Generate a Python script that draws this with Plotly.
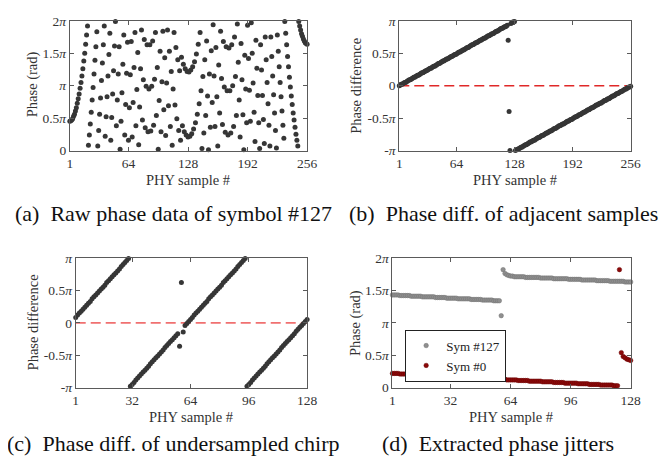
import plotly.graph_objects as go

# ---------------- data (phase values in units of pi) ----------------
# (a) raw phase of symbol #127, samples 1..256
raw_phase = [
    0.45, 0.46, 0.47, 0.49, 0.53, 0.56, 0.61, 0.66, 0.73, 0.80,
    0.87, 0.96, 1.05, 1.15, 1.26, 1.38, 1.50, 1.64, 1.78, 1.92,
    0.08, 0.24, 0.41, 0.59, 0.78, 0.97, 1.18, 1.39, 1.60, 1.83,
    0.07, 0.31, 0.56, 0.81, 1.08, 1.35, 1.63, 1.92, 0.22, 0.52,
    0.83, 1.15, 1.48, 1.81, 0.16, 0.51, 0.87, 1.23, 1.61, 1.99,
    0.38, 0.78, 1.18, 1.60, 0.02, 0.45, 0.89, 1.33, 1.78, 0.24,
    0.71, 1.19, 1.67, 0.16, 0.66, 1.17, 1.68, 0.21, 0.74, 1.28,
    1.82, 0.38, 0.94, 1.51, 0.09, 0.67, 1.26, 1.86, 0.47, 1.09,
    1.71, 0.35, 0.99, 1.63, 0.29, 0.95, 1.63, 0.30, 0.99, 1.69,
    0.39, 1.10, 1.82, 0.54, 1.28, 0.02, 0.77, 1.53, 0.29, 1.06,
    1.84, 0.63, 1.43, 0.23, 1.04, 1.86, 0.69, 1.53, 0.37, 1.22,
    0.08, 0.95, 1.82, 0.70, 1.59, 0.49, 1.40, 0.31, 1.23, 0.16,
    1.44, 0.38, 1.33, 0.29, 1.26, 0.24, 1.22, 0.21, 1.21, 0.22,
    1.24, 0.26, 1.29, 0.33, 1.37, 0.43, 1.49, 0.56, 1.64, 0.72,
    1.82, 0.92, 0.03, 1.14, 0.27, 1.40, 0.54, 1.69, 0.84, 0.01,
    1.18, 0.36, 1.54, 0.74, 1.94, 1.15, 0.37, 1.59, 0.83, 0.07,
    1.32, 0.58, 1.84, 1.11, 0.40, 1.68, 0.98, 0.28, 1.60, 0.92,
    0.24, 1.58, 0.92, 0.27, 1.63, 1.00, 0.37, 1.75, 1.14, 0.54,
    1.95, 1.36, 0.78, 0.21, 1.65, 1.09, 0.55, 0.01, 1.47, 0.95,
    0.43, 1.93, 1.42, 0.93, 0.45, 1.97, 1.50, 1.04, 0.59, 0.14,
    1.70, 1.27, 0.85, 0.43, 0.03, 1.63, 1.24, 0.85, 0.48, 0.11,
    1.75, 1.40, 1.05, 0.72, 0.39, 0.07, 1.75, 1.45, 1.15, 0.86,
    0.58, 0.31, 0.04, 1.78, 1.53, 1.29, 1.05, 0.83, 0.61, 0.39,
    0.19, 1.99, 1.81, 1.63, 1.45, 1.29, 1.13, 0.98, 0.84, 0.71,
    0.58, 0.47, 0.36, 0.25, 0.16, 0.07, 1.99, 1.92, 1.86, 1.80,
    1.76, 1.72, 1.69, 1.66, 1.65, 1.64,
]

# (b) phase difference of adjacent samples, samples 1..256
adjacent_diff = [
    0.00, 0.01, 0.02, 0.02, 0.03, 0.04, 0.05, 0.05, 0.06, 0.07, 0.08, 0.09, 0.09, 0.10, 0.11, 0.12,
    0.13, 0.13, 0.14, 0.15, 0.16, 0.16, 0.17, 0.18, 0.19, 0.20, 0.20, 0.21, 0.22, 0.23, 0.23, 0.24,
    0.25, 0.26, 0.27, 0.27, 0.28, 0.29, 0.30, 0.30, 0.31, 0.32, 0.33, 0.34, 0.34, 0.35, 0.36, 0.37,
    0.38, 0.38, 0.39, 0.40, 0.41, 0.41, 0.42, 0.43, 0.44, 0.45, 0.45, 0.46, 0.47, 0.48, 0.48, 0.49,
    0.50, 0.51, 0.52, 0.52, 0.53, 0.54, 0.55, 0.55, 0.56, 0.57, 0.58, 0.59, 0.59, 0.60, 0.61, 0.62,
    0.63, 0.63, 0.64, 0.65, 0.66, 0.66, 0.67, 0.68, 0.69, 0.70, 0.70, 0.71, 0.72, 0.73, 0.73, 0.74,
    0.75, 0.76, 0.77, 0.77, 0.78, 0.79, 0.80, 0.80, 0.81, 0.82, 0.83, 0.84, 0.84, 0.85, 0.86, 0.87,
    0.88, 0.88, 0.89, 0.90, 0.91, 0.91, 0.92, 0.93, 0.70, -0.40, -1.00, 0.96, 0.97, 0.98, 0.98, 0.99,
    -1.00, -0.99, -0.98, -0.98, -0.97, -0.96, -0.95, -0.95, -0.94, -0.93, -0.92, -0.91, -0.91, -0.90, -0.89, -0.88,
    -0.87, -0.87, -0.86, -0.85, -0.84, -0.84, -0.83, -0.82, -0.81, -0.80, -0.80, -0.79, -0.78, -0.77, -0.77, -0.76,
    -0.75, -0.74, -0.73, -0.73, -0.72, -0.71, -0.70, -0.70, -0.69, -0.68, -0.67, -0.66, -0.66, -0.65, -0.64, -0.63,
    -0.62, -0.62, -0.61, -0.60, -0.59, -0.59, -0.58, -0.57, -0.56, -0.55, -0.55, -0.54, -0.53, -0.52, -0.52, -0.51,
    -0.50, -0.49, -0.48, -0.48, -0.47, -0.46, -0.45, -0.45, -0.44, -0.43, -0.42, -0.41, -0.41, -0.40, -0.39, -0.38,
    -0.37, -0.37, -0.36, -0.35, -0.34, -0.34, -0.33, -0.32, -0.31, -0.30, -0.30, -0.29, -0.28, -0.27, -0.27, -0.26,
    -0.25, -0.24, -0.23, -0.23, -0.22, -0.21, -0.20, -0.20, -0.19, -0.18, -0.17, -0.16, -0.16, -0.15, -0.14, -0.13,
    -0.12, -0.12, -0.11, -0.10, -0.09, -0.09, -0.08, -0.07, -0.06, -0.05, -0.05, -0.04, -0.03, -0.02, -0.02, -0.01,
]

# (c) phase difference of undersampled chirp, samples 1..128
undersampled_diff = [
    0.08, 0.12, 0.15, 0.18, 0.21, 0.24, 0.27, 0.30, 0.33, 0.37, 0.40, 0.43, 0.46, 0.49, 0.52, 0.55,
    0.58, 0.62, 0.65, 0.68, 0.71, 0.74, 0.77, 0.80, 0.83, 0.87, 0.90, 0.93, 0.96, 0.99, -0.98, -0.95,
    -0.92, -0.88, -0.85, -0.82, -0.79, -0.76, -0.73, -0.70, -0.67, -0.63, -0.60, -0.57, -0.54, -0.51,
    -0.48, -0.45, -0.42, -0.38, -0.35, -0.32, -0.29, -0.26, -0.23, -0.20, -0.17, -0.36, 0.62, -0.14,
    -0.04, -0.01, 0.02, 0.05, 0.08, 0.12, 0.15, 0.18, 0.21, 0.24, 0.27, 0.30, 0.33, 0.37, 0.40, 0.43,
    0.46, 0.49, 0.52, 0.55, 0.58, 0.62, 0.65, 0.68, 0.71, 0.74, 0.77, 0.80, 0.83, 0.87, 0.90, 0.93,
    0.96, 0.99, -0.98, -0.95, -0.92, -0.88, -0.85, -0.82, -0.79, -0.76, -0.73, -0.70, -0.67, -0.63,
    -0.60, -0.57, -0.54, -0.51, -0.48, -0.45, -0.42, -0.38, -0.35, -0.32, -0.29, -0.26, -0.23, -0.20,
    -0.17, -0.13, -0.10, -0.07, -0.04, -0.01, 0.02, 0.05,
]

# (d) extracted phase jitters, samples 1..128
sym127_phase = [
    1.43, 1.43, 1.43, 1.43, 1.42, 1.42, 1.42, 1.42, 1.42, 1.42,
    1.41, 1.41, 1.41, 1.41, 1.41, 1.41, 1.40, 1.40, 1.40, 1.40, 1.40, 1.40, 1.40,
    1.39, 1.39, 1.39, 1.39, 1.39, 1.39, 1.38, 1.38, 1.38, 1.38, 1.38, 1.38,
    1.37, 1.37, 1.37, 1.37, 1.37, 1.37, 1.37, 1.36, 1.36, 1.36, 1.36, 1.36, 1.36,
    1.35, 1.35, 1.35, 1.35, 1.35, 1.35, 1.34, 1.34, 1.34, 1.34,
    1.11,
    1.82, 1.76, 1.74, 1.73, 1.72, 1.72, 1.71, 1.71, 1.71, 1.71, 1.71, 1.71,
    1.70, 1.70, 1.70, 1.70, 1.70, 1.70, 1.70, 1.70,
    1.69, 1.69, 1.69, 1.69, 1.69, 1.69, 1.69,
    1.68, 1.68, 1.68, 1.68, 1.68, 1.68, 1.68, 1.68,
    1.67, 1.67, 1.67, 1.67, 1.67, 1.67, 1.67,
    1.66, 1.66, 1.66, 1.66, 1.66, 1.66, 1.66, 1.66,
    1.65, 1.65, 1.65, 1.65, 1.65, 1.65, 1.65,
    1.64, 1.64, 1.64, 1.64, 1.64, 1.64, 1.64, 1.64,
    1.63, 1.63, 1.63, 1.63,
]
sym0_phase = [
    0.22, 0.22, 0.22, 0.22, 0.21, 0.21, 0.21, 0.21, 0.21, 0.21,
    0.20, 0.20, 0.20, 0.20, 0.20, 0.20, 0.19, 0.19, 0.19, 0.19, 0.19, 0.19, 0.19,
    0.18, 0.18, 0.18, 0.18, 0.18, 0.18, 0.17, 0.17, 0.17, 0.17, 0.17, 0.17,
    0.16, 0.16, 0.16, 0.16, 0.16, 0.16, 0.16, 0.15, 0.15, 0.15, 0.15, 0.15, 0.15,
    0.14, 0.14, 0.14, 0.14, 0.14, 0.14, 0.13, 0.13, 0.13, 0.13, 0.13, 0.13, 0.13,
    0.12, 0.12, 0.12, 0.12, 0.12, 0.12, 0.11, 0.11, 0.11, 0.11, 0.11, 0.11,
    0.10, 0.10, 0.10, 0.10, 0.10, 0.10, 0.10, 0.09, 0.09, 0.09, 0.09, 0.09, 0.09,
    0.08, 0.08, 0.08, 0.08, 0.08, 0.08, 0.07, 0.07, 0.07, 0.07, 0.07, 0.07, 0.07,
    0.06, 0.06, 0.06, 0.06, 0.06, 0.06, 0.05, 0.05, 0.05, 0.05, 0.05, 0.05,
    0.04, 0.04, 0.04, 0.04, 0.04, 0.04, 0.04, 0.03, 0.03, 0.03,
    1.82, 0.54, 0.48, 0.46, 0.44, 0.43, 0.42,
]

x_ticks_256 = [1, 64, 128, 192, 256]
x_ticks_128 = [1, 32, 64, 96, 128]
y_ticks_pos = [0, 0.5, 1, 1.5, 2]
y_text_pos = ["0", "0.5<i>π</i>", "<i>π</i>", "1.5<i>π</i>", "2<i>π</i>"]
y_ticks_sym = [-1, -0.5, 0, 0.5, 1]
y_text_sym = ["-<i>π</i>", "-0.5<i>π</i>", "0", "0.5<i>π</i>", "<i>π</i>"]

FONT = "Liberation Serif, Times New Roman, serif"
W, H = 667, 468
DOT = "#363636"


def idx(values):
    return list(range(1, len(values) + 1))


fig = go.Figure()
fig.add_trace(go.Scatter(x=idx(raw_phase), y=raw_phase, mode="markers",
                         marker=dict(size=5, color=DOT), showlegend=False,
                         cliponaxis=False, xaxis="x", yaxis="y"))
fig.add_trace(go.Scatter(x=idx(adjacent_diff), y=adjacent_diff, mode="markers",
                         marker=dict(size=5, color=DOT), showlegend=False,
                         cliponaxis=False, xaxis="x2", yaxis="y2"))
fig.add_trace(go.Scatter(x=idx(undersampled_diff), y=undersampled_diff, mode="markers",
                         marker=dict(size=5, color=DOT), showlegend=False,
                         cliponaxis=False, xaxis="x3", yaxis="y3"))
fig.add_trace(go.Scatter(x=idx(sym127_phase), y=sym127_phase, mode="markers",
                         name="Sym #127",
                         marker=dict(size=4.5, color="#8f8f8f",
                                     line=dict(width=0.5, color="#707070")),
                         cliponaxis=False, xaxis="x4", yaxis="y4"))
fig.add_trace(go.Scatter(x=idx(sym0_phase), y=sym0_phase, mode="markers",
                         name="Sym #0",
                         marker=dict(size=4.5, color="#8b0a0a",
                                     line=dict(width=0.5, color="#6a0000")),
                         cliponaxis=False, xaxis="x4", yaxis="y4"))


def px_x(a, b):
    return [a / W, b / W]


def px_y(top, bottom):
    return [1 - bottom / H, 1 - top / H]


axis_common = dict(showline=True, mirror="ticks", linecolor="#5a5a5a", linewidth=1,
                   ticks="inside", ticklen=4, tickcolor="#5a5a5a", tickwidth=1,
                   showgrid=False, zeroline=False,
                   tickfont=dict(family=FONT, size=13.5, color="#333333"))

fig.update_layout(
    xaxis=dict(domain=px_x(60, 302), anchor="y", range=[1, 256],
               tickvals=x_ticks_256, **axis_common),
    yaxis=dict(domain=px_y(6, 140), anchor="x", range=[0, 2],
               tickvals=y_ticks_pos, ticktext=y_text_pos, **axis_common),
    xaxis2=dict(domain=px_x(396, 632), anchor="y2", range=[1, 256],
                tickvals=x_ticks_256, **axis_common),
    yaxis2=dict(domain=px_y(6, 140), anchor="x2", range=[-1, 1],
                tickvals=y_ticks_sym, ticktext=y_text_sym, **axis_common),
    xaxis3=dict(domain=px_x(66, 302), anchor="y3", range=[1, 128],
                tickvals=x_ticks_128, **axis_common),
    yaxis3=dict(domain=px_y(251, 385), anchor="x3", range=[-1, 1],
                tickvals=y_ticks_sym, ticktext=y_text_sym, **axis_common),
    xaxis4=dict(domain=px_x(389, 632), anchor="y4", range=[1, 128],
                tickvals=x_ticks_128, **axis_common),
    yaxis4=dict(domain=px_y(251, 385), anchor="x4", range=[0, 2],
                tickvals=y_ticks_pos, ticktext=y_text_pos, **axis_common),
)

# dashed zero reference lines
fig.add_shape(type="line", xref="x2 domain", x0=0, x1=1, yref="y2", y0=0, y1=0,
              line=dict(color="#e02828", width=1.5, dash="10px,5px"), layer="below")
fig.add_shape(type="line", xref="x3 domain", x0=0, x1=1, yref="y3", y0=0, y1=0,
              line=dict(color="#f07070", width=1.8, dash="10px,5px"), layer="below")


# axis titles and captions
def ann(text, x, y, size, angle=0, color="#333333"):
    fig.add_annotation(text=text, x=x / W, y=1 - y / H, xref="paper", yref="paper",
                       showarrow=False, textangle=angle, xanchor="center", yanchor="middle",
                       font=dict(family=FONT, size=size, color=color))


ann("Phase (rad)", 22, 72, 14.5, -90)
ann("Phase difference", 352, 73, 14.5, -90)
ann("Phase difference", 22, 318, 14.5, -90)
ann("Phase (rad)", 352, 318, 14.5, -90)
ann("PHY sample #", 181, 170, 14.5)
ann("PHY sample #", 514, 170, 14.5)
ann("PHY sample #", 184, 415, 14.5)
ann("PHY sample #", 510, 415, 14.5)
ann("(a)&nbsp; Raw phase data of symbol #127", 166, 205, 22, color="#111111")
ann("(b)&nbsp; Phase diff. of adjacent samples", 502, 205, 22, color="#111111")
ann("(c)&nbsp; Phase diff. of undersampled chirp", 166, 443, 22, color="#111111")
ann("(d)&nbsp; Extracted phase jitters", 497, 443, 22, color="#111111")

fig.update_layout(
    width=W, height=H, margin=dict(l=0, r=0, t=0, b=0),
    paper_bgcolor="white", plot_bgcolor="white",
    font=dict(family=FONT, size=13, color="#333333"),
    legend=dict(x=402 / W, y=1 - 325 / H, xanchor="left", yanchor="top",
                bgcolor="white", bordercolor="#222222", borderwidth=1,
                font=dict(family=FONT, size=13, color="#222222"),
                tracegroupgap=0, itemwidth=30),
    showlegend=True,
)

fig.write_html("out.html")
